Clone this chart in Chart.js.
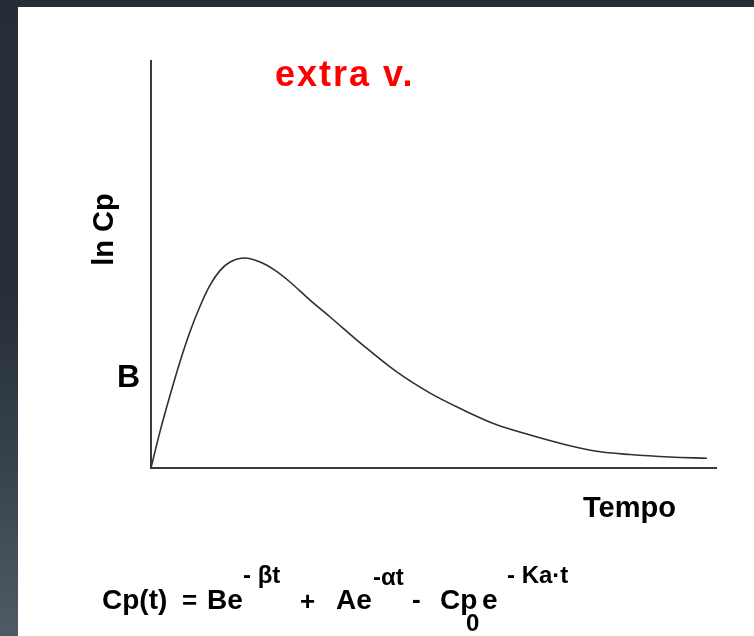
<!DOCTYPE html>
<html>
<head>
<meta charset="utf-8">
<script src="https://cdn.jsdelivr.net/npm/chart.js@4/dist/chart.umd.min.js"></script>
<style>
    body { margin: 0; width: 754px; height: 636px; overflow: hidden; position: relative;
        background: linear-gradient(to bottom, #252d36 0%, #262e37 45%, #35404a 70%, #505a64 100%); }
    #panel { position: absolute; left: 18px; top: 7px; right: 0; bottom: 0; background: #ffffff; }
    #topbar { position: absolute; left: 0; top: 0; width: 754px; height: 7px; background: #252d36; }
    canvas { position: absolute; left: 0; top: 0; }
    .lbl { position: absolute; font-family: "Liberation Sans", Arial, sans-serif; font-weight: bold;
        line-height: 1; white-space: nowrap; color: #000; }
</style>
</head>
<body>
<div id="topbar"></div>
<div id="panel"></div>
<canvas id="curveChart" width="754" height="636"></canvas>

<div class="lbl" style="left:275px; top:56px; font-size:36px; letter-spacing:2px; color:#ff0000;">extra v.</div>
<div class="lbl" style="left:63px; top:215px; width:80px; height:29px; font-size:29px; text-align:center; transform:rotate(-90deg);">ln Cp</div>
<div class="lbl" style="left:117px; top:360px; font-size:32px;">B</div>
<div class="lbl" style="left:583px; top:493px; font-size:29px;">Tempo</div>

<!-- equation -->
<div class="lbl" style="left:102px; top:586px; font-size:28px;">Cp(t)</div>
<div class="lbl" style="left:182px; top:587px; font-size:26px;">=</div>
<div class="lbl" style="left:207px; top:586px; font-size:28px;">Be</div>
<div class="lbl" style="left:243px; top:563px; font-size:24px;">- βt</div>
<div class="lbl" style="left:300px; top:588px; font-size:26px;">+</div>
<div class="lbl" style="left:336px; top:586px; font-size:28px;">Ae</div>
<div class="lbl" style="left:373px; top:565px; font-size:24px;">-αt</div>
<div class="lbl" style="left:412px; top:586px; font-size:26px;">-</div>
<div class="lbl" style="left:440px; top:586px; font-size:28px;">Cp</div>
<div class="lbl" style="left:466px; top:611px; font-size:24px;">0</div>
<div class="lbl" style="left:482px; top:586px; font-size:28px;">e</div>
<div class="lbl" style="left:507px; top:563px; font-size:24px;">- Ka·t</div>

<script>
// curve: time (arbitrary units) vs ln Cp
const timeValues = [0, 0.16, 0.34, 0.51, 0.69, 0.87, 1.04, 1.22, 1.40, 1.66, 1.93, 2.19, 2.46, 2.81, 3.17,
    3.75, 4.35, 4.94, 5.52, 6.12, 6.71, 7.29, 7.89, 8.48, 9.19, 9.84];
const lnCpValues = [0, 0.9, 1.8, 2.6, 3.35, 3.98, 4.48, 4.85, 5.06, 5.16, 5.06, 4.86, 4.57, 4.13, 3.71,
    3.02, 2.36, 1.84, 1.43, 1.06, 0.81, 0.59, 0.41, 0.33, 0.27, 0.24];

const axisMax = 10;

const points = timeValues.map((t, i) => ({ x: t, y: lnCpValues[i] }));

const ctx = document.getElementById('curveChart').getContext('2d');
new Chart(ctx, {
    type: 'line',
    data: {
        datasets: [{
            data: points,
            borderColor: '#303030',
            borderWidth: 1.6,
            pointRadius: 0,
            fill: false,
            cubicInterpolationMode: 'monotone'
        }]
    },
    options: {
        responsive: false,
        animation: false,
        devicePixelRatio: 1,
        layout: {
            padding: { left: 151, top: 61, right: 38, bottom: 168 }
        },
        plugins: {
            legend: { display: false },
            tooltip: { enabled: false }
        },
        scales: {
            x: {
                type: 'linear',
                min: 0,
                max: axisMax,
                ticks: { display: false },
                grid: { display: false, drawTicks: false },
                border: { display: true, color: '#3a3a3a', width: 2 },
                afterFit: (s) => { s.height = 0; }
            },
            y: {
                type: 'linear',
                min: 0,
                max: axisMax,
                ticks: { display: false },
                grid: { display: false, drawTicks: false },
                border: { display: true, color: '#3a3a3a', width: 2 },
                afterFit: (s) => { s.width = 0; }
            }
        }
    }
});
</script>
</body>
</html>
